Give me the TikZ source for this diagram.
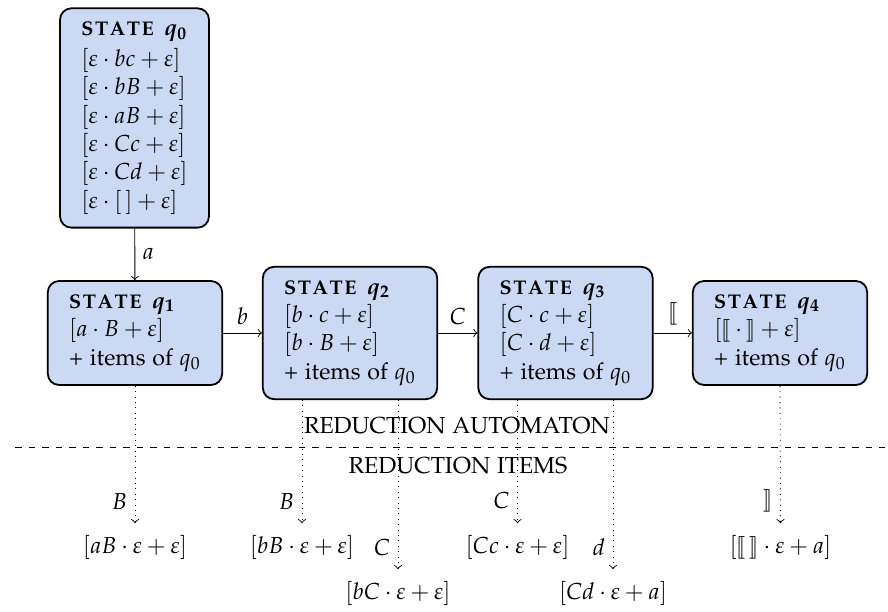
\documentclass[tikz,border=0pt]{standalone}
\usepackage[T1]{fontenc}
\usepackage{amsmath,amssymb,stmaryrd}
\usepackage[sc]{mathpazo}
\usepackage{tikz}
\definecolor{statefill}{RGB}{204,217,244}
\tikzstyle{statebox}=[draw,thick,rounded corners=5pt,fill=statefill,align=left,inner xsep=9.5pt,inner ysep=6pt]
\tikzstyle{itembox}=[inner xsep=3pt,inner ysep=5pt]
\tikzstyle{trans}=[->]
\tikzstyle{rdc}=[->,dotted]
\newcommand\capsk{\kern.7pt}
\newcommand\stt[1]{{\bfseries\boldmath{\fontsize{8.8pt}{10pt}\selectfont S\capsk T\capsk A\capsk T\capsk E}\, $q_{#1}$}}
\newcommand\others{+ items of $q_0$}
\newcommand\eps{\varepsilon}

\begin{document}
\begin{tikzpicture}[x=.4444pt,y=-.4444pt,every node/.style={font=\fontsize{10.3pt}{12.6pt}\selectfont}]
	\useasboundingbox (0,0) rectangle (888,612);
	\node[statebox,minimum height=97pt] (q0) at (134.5,118) {\stt0\\[1pt] $[\eps\cdot bc+\eps]$\\ $[\eps\cdot bB+\eps]$\\ $[\eps\cdot aB+\eps]$\\ $[\eps\cdot Cc+\eps]$\\ $[\eps\cdot Cd+\eps]$\\ $[\eps\cdot[\,]+\eps]$};
	\node[statebox] (q1) at (135,333)   {\stt1\\ $[a\cdot B+\eps]$\\ \others};
	\node[statebox] (q2) at (350,333)   {\stt2\\ $[b\cdot c+\eps]$\\ $[b\cdot B+\eps]$\\ \others};
	\node[statebox] (q3) at (565.5,333) {\stt3\\ $[C\cdot c+\eps]$\\ $[C\cdot d+\eps]$\\ \others};
	\node[statebox] (q4) at (780,333)   {\stt4\\ $[\llbracket{}\cdot{}\rrbracket+\eps]$\\ \others};
	%
	\node[itembox] (r1) at (135,547)   {$[aB\cdot\eps+\eps]$};
	\node[itembox] (r2) at (302,547)   {$[bB\cdot\eps+\eps]$};
	\node[itembox] (r3) at (398,593)   {$[bC\cdot\eps+\eps]$};
	\node[itembox] (r4) at (517.5,547) {$[Cc\cdot\eps+\eps]$};
	\node[itembox] (r5) at (613,593)   {$[Cd\cdot\eps+a]$};
	\node[itembox] (r6) at (780.5,547) {$[\llbracket\,\rrbracket\cdot\eps+a]$};
	%
	\coordinate (sepL) at (15,447);
	\coordinate (sepR) at (885,447);
	\draw[dashed] (sepL) -- (sepR);
	\node (auto) at (457,426) {REDUCTION AUTOMATON};
	\node (items) at (458,466) {REDUCTION ITEMS};
%
	\draw[trans] (q0) --node[right]{$a$} (q1);
	\draw[trans] (q1) --node[above]{$b$} (q2);
	\draw[trans] (q2) --node[above]{$C$} (q3);
	\draw[trans] (q3) --node[above]{$\llbracket$} (q4);
	%
	\draw[rdc] (q1) --node[left,pos=.84]{$B$} (r1);
	\draw[rdc] (r2.north |- q2.south) --node[left,pos=.82]{$B$} (r2);
	\draw[rdc] (r3.north |- q2.south) --node[left,pos=.87]{$C$} (r3);
	\draw[rdc] (r4.north |- q3.south) --node[left,pos=.82]{$C$} (r4);
	\draw[rdc] (r5.north |- q3.south) --node[left,pos=.87]{$d$} (r5);
	\draw[rdc] (q4) --node[left,pos=.84]{$\rrbracket$} (r6);
\end{tikzpicture}
\end{document}
